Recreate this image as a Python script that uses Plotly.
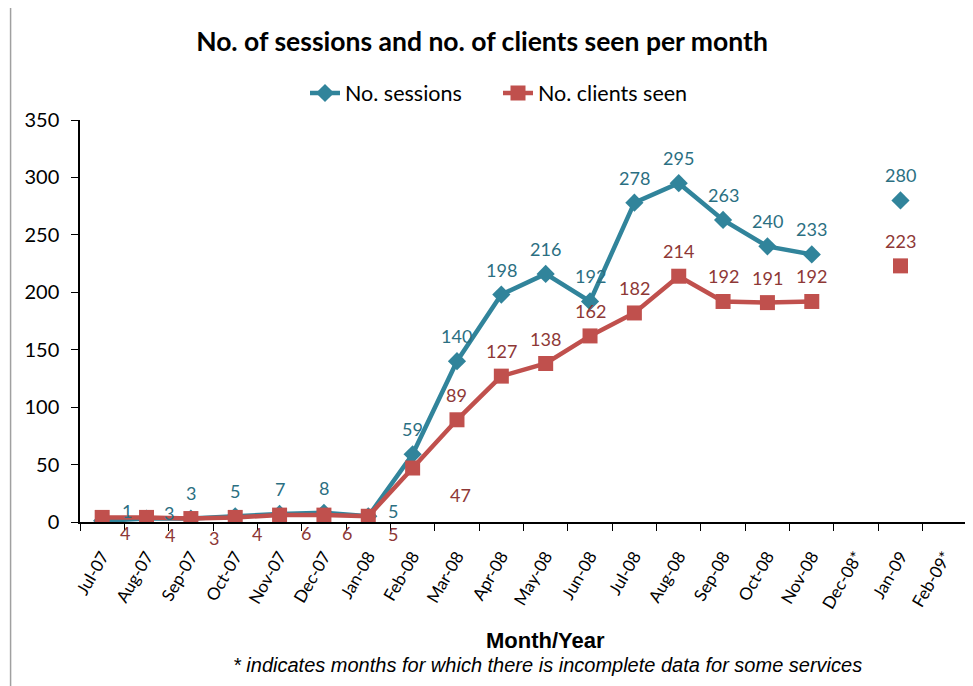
import plotly.graph_objects as go

months = ["Jul-07", "Aug-07", "Sep-07", "Oct-07", "Nov-07", "Dec-07", "Jan-08",
          "Feb-08", "Mar-08", "Apr-08", "May-08", "Jun-08", "Jul-08", "Aug-08",
          "Sep-08", "Oct-08", "Nov-08", "Dec-08*", "Jan-09", "Feb-09*"]
sessions = [1, 3, 3, 5, 7, 8, 5, 59, 140, 198, 216, 192, 278, 295, 263, 240, 233,
            None, 280, None]
clients = [4, 4, 3, 4, 6, 6, 5, 47, 89, 127, 138, 162, 182, 214, 192, 191, 192,
           None, 223, None]

# label offsets in pixels (style only): (dx, dy_up)
sess_off = [(25, 10), (22, 6), (0, 26), (0, 25), (0, 25), (0, 25), (25, 5)] + [(0, 25)] * 13
cli_off = [(23, -16), (23, -18), (23, -19), (22, -17), (26, -18), (23, -18), (25, -18),
           (48, -27)] + [(0, 25)] * 12

SESS_C = "#31849B"
CLI_C = "#C0504D"
SESS_LBL = "#2B6F82"
CLI_LBL = "#8E3836"
FONT = "Lato"

# the page body has an 8px margin; work in screenshot pixels and shift
OFF = 8
W, H = 973 - OFF, 686 - OFF
PL, PR, PT, PB = 79.5, 967.5, 120, 522   # plot area in screenshot pixels
L, R, T, B = PL - OFF, W - (PR - OFF), PT - OFF, H - (PB - OFF)
pw, ph = W - L - R, H - T - B

def px_to_paper(x, y):
    return (x - PL) / pw, (PB - y) / ph

fig = go.Figure()
fig.add_trace(go.Scatter(x=months, y=sessions, name="No. sessions", mode="lines+markers",
                         line=dict(color=SESS_C, width=4.5),
                         marker=dict(symbol="diamond", size=14, color=SESS_C),
                         connectgaps=False))
fig.add_trace(go.Scatter(x=months, y=clients, name="No. clients seen", mode="lines+markers",
                         line=dict(color=CLI_C, width=4.5),
                         marker=dict(symbol="square", size=15, color=CLI_C),
                         connectgaps=False))

annotations = []
for vals, offs, col in ((sessions, sess_off, SESS_LBL), (clients, cli_off, CLI_LBL)):
    for m, v, (dx, dy) in zip(months, vals, offs):
        if v is None:
            continue
        annotations.append(dict(x=m, y=v, xref="x", yref="y", text=str(v), showarrow=False,
                                xshift=dx, yshift=dy, font=dict(family=FONT, size=18, color=col)))

mx, my = px_to_paper(546, 640)
annotations.append(dict(x=mx, y=my, xref="paper", yref="paper", text="<b>Month/Year</b>",
                        xanchor="center", yanchor="middle",
                        showarrow=False, font=dict(family="Liberation Sans", size=22, color="black")))
fx, fy = px_to_paper(548, 665)
annotations.append(dict(x=fx, y=fy, xref="paper", yref="paper",
                        xanchor="center", yanchor="middle",
                        text="<i>* indicates months for which there is incomplete data for some services</i>",
                        showarrow=False, font=dict(family="Liberation Sans", size=20, color="black")))

bx0, by1 = px_to_paper(10, 6)
bx1, by0 = px_to_paper(970, 720)

fig.update_layout(
    width=W, height=H,
    margin=dict(l=L, r=R, t=T, b=B, autoexpand=False),
    paper_bgcolor="white", plot_bgcolor="white",
    title=dict(text="<b>No. of sessions and no. of clients seen per month</b>",
               x=(482 - OFF) / W, xanchor="center", y=1 - (42 - OFF) / H, yanchor="middle",
               font=dict(family=FONT, size=26.5, color="black"), automargin=False),
    legend=dict(orientation="h", x=(305 - OFF) / W, xanchor="left",
                y=1 - (93 - OFF) / H, yanchor="middle",
                xref="container", yref="container", entrywidth=148,
                font=dict(family=FONT, size=21.5, color="black")),
    annotations=annotations,
    xaxis=dict(type="category", range=[-0.5, 19.5], tickson="boundaries", ticks="outside",
               ticklen=7, tickcolor="black", showline=True, linecolor="black", linewidth=1.5,
               showgrid=False, tickangle=-60, ticklabelstandoff=16, automargin=False,
               tickfont=dict(family=FONT, size=17, color="black")),
    yaxis=dict(range=[0, 350], dtick=50, ticks="outside", ticklen=7, tickcolor="black",
               showline=True, linecolor="black", linewidth=1.5, showgrid=False, zeroline=False,
               automargin=False, ticklabelstandoff=8,
               tickfont=dict(family=FONT, size=20, color="black")),
    shapes=[dict(type="rect", xref="paper", yref="paper",
                 x0=bx0, x1=bx1, y0=by0, y1=by1,
                 line=dict(color="#A0A0A0", width=1.5), fillcolor="rgba(0,0,0,0)", layer="below")],
)

fig.write_html("out.html")
